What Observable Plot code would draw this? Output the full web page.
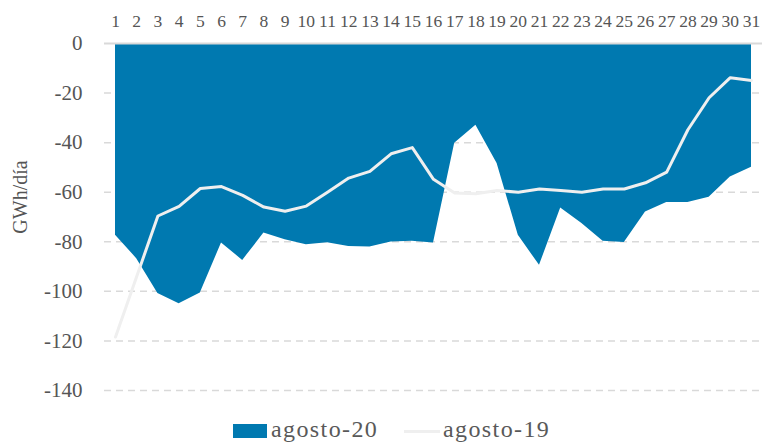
<!DOCTYPE html>
<html>
<head>
<meta charset="utf-8">
<script src="https://cdn.jsdelivr.net/npm/d3@7"></script>
<script src="https://cdn.jsdelivr.net/npm/@observablehq/plot@0.6"></script>
<style>
  html, body { margin: 0; padding: 0; background: #fff; }
  #wrap { position: relative; width: 762px; height: 444px; font-family: "Liberation Serif", serif; }
  #wrap svg text { font-family: "Liberation Serif", serif; }
  #legend { position: absolute; left: 0; top: 410px; width: 762px; height: 34px; color: #595959; }
  .sw { position: absolute; }
  .lt { position: absolute; font-size: 24px; letter-spacing: 1.4px; line-height: 24px; }
</style>
</head>
<body>
<div id="wrap"></div>
<script>
const days = [1,2,3,4,5,6,7,8,9,10,11,12,13,14,15,16,17,18,19,20,21,22,23,24,25,26,27,28,29,30,31];
const ago20 = [-77.4,-86.8,-100.9,-105,-100.7,-80.5,-87.5,-76.5,-79.2,-81.2,-80.4,-81.9,-82.1,-80.1,-79.8,-80.5,-40.2,-33,-48.4,-77.4,-89.5,-66.4,-72.6,-79.8,-80.3,-68,-64.2,-64.2,-62,-53.9,-49.9];
const ago19 = [-118.4,-94,-69.6,-65.7,-58.5,-57.7,-61.3,-66,-67.7,-65.6,-60,-54.3,-51.6,-44.5,-42,-54.8,-60.3,-60.6,-59.3,-60,-58.7,-59.3,-60,-58.7,-58.7,-56.2,-51.9,-34.8,-21.9,-13.8,-14.9];
const yTicks = [0,-20,-40,-60,-80,-100,-120,-140];
const seriesNames = ["agosto-20", "agosto-19"];
const colors = ["#0079b0", "#efefef"];

const rows20 = days.map((d, i) => ({day: d, v: ago20[i]}));
const rows19 = days.map((d, i) => ({day: d, v: ago19[i]}));

const FONT = "Liberation Serif, serif";
const chart = Plot.plot({
  width: 762,
  height: 410,
  marginTop: 43,
  marginBottom: 20,
  marginLeft: 104,
  marginRight: 0,
  style: {fontFamily: FONT, background: "#fff", overflow: "visible"},
  x: {domain: [1, 31], range: [115, 751]},
  y: {domain: [-140, 0], range: [390, 43]},
  marks: [
    Plot.ruleY(yTicks.filter(t => t !== 0), {stroke: "#d9d9d9", strokeWidth: 1.5, strokeDasharray: "7,5"}),
    Plot.areaY(rows20, {x: "day", y: "v", fill: colors[0]}),
    Plot.ruleY([0], {stroke: "#d9d9d9", strokeWidth: 2}),
    Plot.lineY(rows19, {x: "day", y: "v", stroke: colors[1], strokeWidth: 3}),
    Plot.axisX({anchor: "top", ticks: days, tickFormat: d => String(d), tickSize: 0, tickPadding: 17, fontSize: 17.5, fontFamily: FONT, fill: "#555", label: null}),
    Plot.axisY({anchor: "left", ticks: yTicks, tickFormat: d => String(d), tickSize: 0, tickPadding: 22, fontSize: 21, fontFamily: FONT, fill: "#555", label: null}),
    Plot.text(["GWh/día"], {frameAnchor: "left", textAnchor: "middle", dx: -84, dy: -20, rotate: -90, fontSize: 20, fontFamily: FONT, fill: "#555", text: d => d})
  ]
});
document.getElementById("wrap").appendChild(chart);

const legend = document.createElement("div");
legend.id = "legend";
legend.innerHTML = `
  <div class="sw" style="left:233px; top:14px; width:34px; height:14px; background:${colors[0]}"></div>
  <div class="lt" style="left:271px; top:7px;">${seriesNames[0]}</div>
  <div class="sw" style="left:404px; top:20px; width:36px; height:3px; background:${colors[1]}"></div>
  <div class="lt" style="left:443px; top:7px;">${seriesNames[1]}</div>`;
document.getElementById("wrap").appendChild(legend);
</script>
</body>
</html>
